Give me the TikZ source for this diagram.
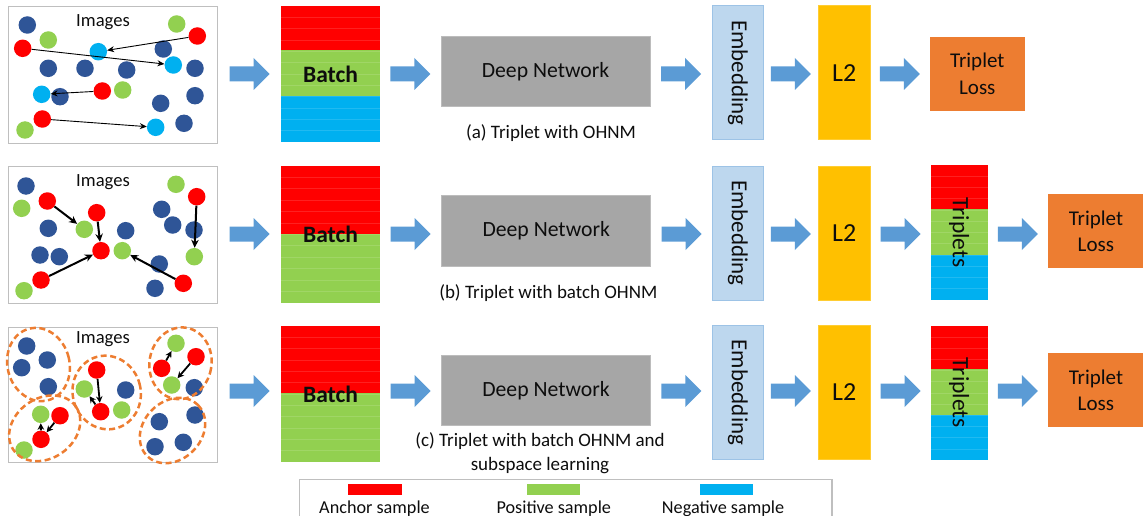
\documentclass[tikz,border=0pt]{standalone}
\usepackage{fontspec}
\setmainfont{Carlito}
\usetikzlibrary{calc,arrows.meta}
\definecolor{cred}{HTML}{FF0000}
\definecolor{cgreen}{HTML}{92D050}
\definecolor{ccyan}{HTML}{00B0F0}
\definecolor{cdark}{HTML}{2F5597}
\definecolor{cgray}{HTML}{A6A6A6}
\definecolor{cemb}{HTML}{BDD7EE}
\definecolor{cembb}{HTML}{9DC3E6}
\definecolor{cyel}{HTML}{FFC000}
\definecolor{corange}{HTML}{ED7D31}
\definecolor{carrow}{HTML}{5B9BD5}
\definecolor{cframe}{HTML}{BFBFBF}
\definecolor{ctext}{HTML}{0D0D0D}
\newcommand\blockarr[3]{\fill[carrow] ($(#1.east|-#3)!.5!(#2.west|-#3)$) ++(-20,-7.5) -- ++(24,0) -- ++(0,-8.5) -- ++(16,16) -- ++(-16,16) -- ++(0,-8.5) -- ++(-24,0) -- cycle;}
\begin{document}
\begin{tikzpicture}[x=1pt,y=-1pt,text=ctext,
  dot/.style={circle,inner sep=0pt,minimum size=17.5pt,draw=none},
  dk/.style={dot,fill=cdark}, rd/.style={dot,fill=cred},
  gr/.style={dot,fill=cgreen}, cy/.style={dot,fill=ccyan},
  panel/.style={draw=cframe,line width=1.3pt,inner sep=0pt,anchor=north west,minimum width=209pt},
  lbl/.style={font=\fontsize{18.6}{22}\selectfont},
  batchn/.style={inner sep=0pt,minimum width=99pt,font=\bfseries\fontsize{23.5}{28}\selectfont},
  dn/.style={fill=cgray,draw=cgray!75!white,line width=1pt,minimum width=209pt,minimum height=70.5pt,font=\fontsize{21.7}{26}\selectfont},
  emb/.style={fill=cemb,draw=cembb,line width=1pt,minimum width=51pt,minimum height=134pt,inner sep=0pt,font=\fontsize{23}{26}\selectfont},
  ltwo/.style={fill=cyel,draw=cyel!80!white,line width=1pt,minimum width=51.7pt,minimum height=134pt,font=\fontsize{26}{30}\selectfont},
  tl/.style={fill=corange,minimum width=95.5pt,minimum height=74.3pt,align=center,font=\fontsize{21}{26.6}\selectfont},
  capt/.style={align=center,font=\fontsize{19}{23.3}\selectfont},
  tripn/.style={inner sep=0pt,minimum width=57pt,font=\fontsize{23.5}{28}\selectfont},
  ell/.style={draw=corange,line width=2.5pt,dash pattern=on 6pt off 3.5pt},
  strip/.style={draw=white,opacity=0.13,line width=0.7pt},
  aone/.style={line width=0.9pt,-{Stealth[length=7pt,width=6pt]}},
  atwo/.style={line width=2pt,-{Stealth[length=8pt,width=7.5pt]}},
  athree/.style={line width=1.8pt,-{Stealth[length=6.5pt,width=6.5pt]}},
  legt/.style={font=\fontsize{18.2}{22}\selectfont,anchor=base}
]
\useasboundingbox (0,0) rectangle (1143,516);
\coordinate (r1) at (0,74);
\coordinate (r2) at (0,234);
\coordinate (r3) at (0,391);

% ---------------- Row 1 ----------------
\node[panel,minimum height=136.7pt] (panel1) at (8,6) {};
\node[lbl] (img1) at (103,22) {Images};
\foreach \x/\y [count=\i] in {27.3/25,163.3/49,48.3/68.3,85/68.3,126.7/70,195/68.3,60/96.7,195/95.7,160.7/103.3,184/123.3}
  \node[dk] (p1d\i) at (\x,\y) {};
\foreach \x/\y [count=\i] in {176.7/24,48.3/40,122.7/90,25/130}
  \node[gr] (p1g\i) at (\x,\y) {};
\node[rd] (r11) at (197.3,36) {};
\node[rd] (r12) at (22.7,48.3) {};
\node[rd] (r13) at (102.3,91) {};
\node[rd] (r14) at (42.3,119) {};
\node[cy] (c11) at (98.3,51.7) {};
\node[cy] (c12) at (173.3,65) {};
\node[cy] (c13) at (41.7,94.3) {};
\node[cy] (c14) at (155.7,127.3) {};
\draw[aone] (r11) -- (c11);
\draw[aone] (r12) -- (c12);
\draw[aone] (r13) -- (c13);
\draw[aone] (r14) -- (c14);

\fill[cred] (281,6) rectangle (380,50);
\fill[cgreen] (281,50) rectangle (380,96);
\fill[ccyan] (281,96) rectangle (380,142);
\foreach \k in {1,...,11} \draw[strip] (281,{6+\k*11.33}) -- (380,{6+\k*11.33});
\node[batchn,minimum height=136pt] (batch1) at (330.5,74) {Batch};

\node[dn] (dn1) at (545.5,71.3) {Deep Network};
\node[capt] (cap1) at (551,133) {(a) Triplet with OHNM};
\node[emb] (emb1) at (737.8,73) {\rotatebox{-90}{Embedding}};
\node[ltwo] (ltwo1) at (844.2,73) {L2};
\node[tl] (tl1) at (977.3,73.9) {Triplet\\Loss};

\blockarr{panel1}{batch1}{r1}
\blockarr{batch1}{dn1}{r1}
\blockarr{dn1}{emb1}{r1}
\blockarr{emb1}{ltwo1}{r1}
\blockarr{ltwo1}{tl1}{r1}

% ---------------- Row 2 ----------------
\node[panel,minimum height=136.7pt] (panel2) at (8,166) {};
\node[lbl] (img2) at (103,181.7) {Images};
\foreach \x/\y [count=\i] in {26/186,48.3/228.3,161.7/209.3,172.7/225,194/230,125.7/230.7,40/255,59.3/256.7,159.3/264,155/288.3}
  \node[dk] (p2d\i) at (\x,\y) {};
\foreach \x/\y [count=\i] in {21.7/208.3,176/184.3,24/290.7}
  \node[gr] (p2g\i) at (\x,\y) {};
\node[gr] (g21) at (84.3,229.3) {};
\node[gr] (g22) at (122.3,250.7) {};
\node[gr] (g23) at (194.3,256.7) {};
\node[rd] (r21) at (47.3,201) {};
\node[rd] (r22) at (96.7,212.7) {};
\node[rd] (r23) at (101,250.7) {};
\node[rd] (r24) at (41,280) {};
\node[rd] (r25) at (183.3,283.3) {};
\node[rd] (r26) at (196.7,196.7) {};
\draw[atwo] (r21) -- (g21);
\draw[atwo] (r22) -- (r23);
\draw[atwo] (r24) -- (r23);
\draw[atwo] (r25) -- (g22);
\draw[atwo] (r26) -- (g23);

\fill[cred] (281,166) rectangle (380,234);
\fill[cgreen] (281,234) rectangle (380,302.7);
\foreach \k in {1,...,11} \draw[strip] (281,{166+\k*11.39}) -- (380,{166+\k*11.39});
\node[batchn,minimum height=136.7pt] (batch2) at (330.5,234.3) {Batch};

\node[dn] (dn2) at (546.2,231) {Deep Network};
\node[capt] (cap2) at (548.3,293.3) {(b) Triplet with batch OHNM};
\node[emb] (emb2) at (737.8,233) {\rotatebox{-90}{Embedding}};
\node[ltwo] (ltwo2) at (844.2,233) {L2};

\fill[cred] (930.7,165) rectangle (987.7,209);
\fill[cgreen] (930.7,209) rectangle (987.7,255);
\fill[ccyan] (930.7,255) rectangle (987.7,300);
\foreach \k in {1,...,11} \draw[strip] (930.7,{165+\k*11.25}) -- (987.7,{165+\k*11.25});
\node[tripn,minimum height=135pt] (trip2) at (959.2,232.5) {};
\node[font=\fontsize{23.5}{28}\selectfont] (tt2) at (trip2.center) {\rotatebox{-90}{Triplets}};
\node[tl] (tl2) at (1095.9,231.3) {Triplet\\Loss};

\blockarr{panel2}{batch2}{r2}
\blockarr{batch2}{dn2}{r2}
\blockarr{dn2}{emb2}{r2}
\blockarr{emb2}{ltwo2}{r2}
\blockarr{ltwo2}{trip2}{r2}
\blockarr{trip2}{tl2}{r2}

% ---------------- Row 3 ----------------
\node[panel,minimum height=135pt] (panel3) at (8,326.7) {};
\node[lbl] (img3) at (103,339) {Images};
\foreach \x/\y [count=\i] in {26.7/346,21.7/367.7,47.3/360,48.3/386.7,125.7/390,194.3/387.7,195/415,159.3/421.7,155/446.7,183.3/442.3}
  \node[dk] (p3d\i) at (\x,\y) {};
\foreach \x/\y [count=\i] in {121.7/410,24/450}
  \node[gr] (p3g\i) at (\x,\y) {};
\node[rd] (r31) at (96.7,370) {};
\node[rd] (r32) at (100.7,411.7) {};
\node[gr] (g31) at (84.3,389) {};
\node[gr] (g32) at (176,343.3) {};
\node[rd] (r33) at (161.7,368.3) {};
\node[rd] (r34) at (196,356.7) {};
\node[gr] (g33) at (171.7,385) {};
\node[gr] (g34) at (40.7,414.3) {};
\node[rd] (r35) at (60,415.7) {};
\node[rd] (r36) at (41,439.3) {};
\draw[ell,rotate around={15:(38.5,364.5)}] (38.5,364.5) ellipse (31 and 37);
\draw[ell,rotate around={15:(106.7,392.5)}] (106.7,392.5) ellipse (34 and 37);
\draw[ell,rotate around={35:(44.7,428.3)}] (44.7,428.3) ellipse (38 and 30);
\draw[ell,rotate around={-10:(180.5,363.3)}] (180.5,363.3) ellipse (31 and 36);
\draw[ell,rotate around={45:(172.5,430.5)}] (172.5,430.5) ellipse (36 and 29);
\draw[athree] (r31) -- (r32);
\draw[athree] (r32) -- (g31);
\draw[athree] (r33) -- (g32);
\draw[athree] (r34) -- (g33);
\draw[athree] (r36) -- (g34);
\draw[athree] (r35) -- (r36);

\fill[cred] (281,326) rectangle (380,393);
\fill[cgreen] (281,393) rectangle (380,462);
\foreach \k in {1,...,11} \draw[strip] (281,{326+\k*11.33}) -- (380,{326+\k*11.33});
\node[batchn,minimum height=136pt] (batch3) at (330.5,394) {Batch};

\node[dn] (dn3) at (546,390.7) {Deep Network};
\node[capt] (cap3) at (540,453.3) {(c) Triplet with batch OHNM and\\subspace learning};
\node[emb] (emb3) at (737.8,392.5) {\rotatebox{-90}{Embedding}};
\node[ltwo] (ltwo3) at (844.2,392.5) {L2};

\fill[cred] (930.7,325.7) rectangle (987.7,369.3);
\fill[cgreen] (930.7,369.3) rectangle (987.7,415);
\fill[ccyan] (930.7,415) rectangle (987.7,460);
\foreach \k in {1,...,11} \draw[strip] (930.7,{325.7+\k*11.2}) -- (987.7,{325.7+\k*11.2});
\node[tripn,minimum height=134.3pt] (trip3) at (959.2,392.8) {};
\node[font=\fontsize{23.5}{28}\selectfont] (tt3) at (trip3.center) {\rotatebox{-90}{Triplets}};
\node[tl] (tl3) at (1095.9,390.3) {Triplet\\Loss};

\blockarr{panel3}{batch3}{r3}
\blockarr{batch3}{dn3}{r3}
\blockarr{dn3}{emb3}{r3}
\blockarr{emb3}{ltwo3}{r3}
\blockarr{ltwo3}{trip3}{r3}
\blockarr{trip3}{tl3}{r3}

% ---------------- Legend ----------------
\draw[draw=cframe,line width=1.3pt] (299.5,525) -- (299.5,479.3) -- (832,479.3) -- (832,525);
\fill[cred] (348.3,484) rectangle (401.7,495);
\fill[cgreen] (526.7,484) rectangle (580,495);
\fill[ccyan] (700,484) rectangle (753.3,495);
\node[legt] (lg1) at (374.5,513.3) {Anchor sample};
\node[legt] (lg2) at (553.8,513.3) {Positive sample};
\node[legt] (lg3) at (723,513.3) {Negative sample};
\end{tikzpicture}
\end{document}
